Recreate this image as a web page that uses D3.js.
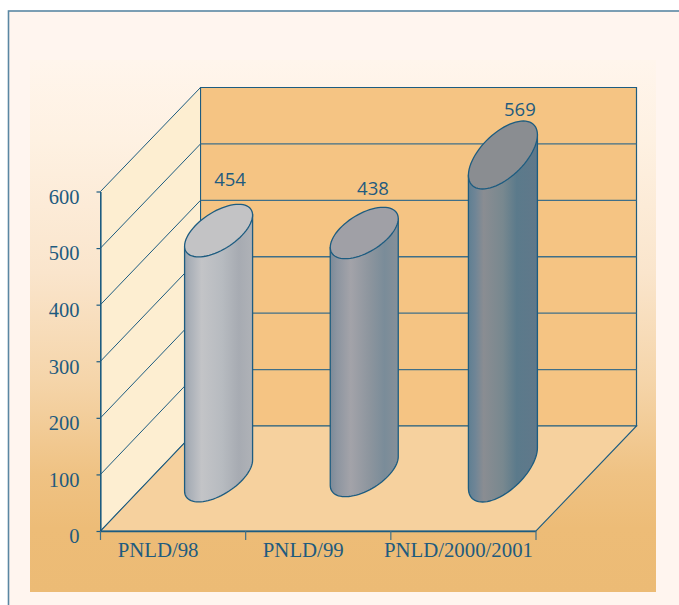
<!DOCTYPE html>
<html lang="en">
  <head>
    <meta charset="UTF-8" />
    <title>PNLD</title>
    <script src="https://d3js.org/d3.v7.min.js"></script>
    <style>
      html, body { margin: 0; padding: 0; background: #fff; }
      svg { display: block; }
      .tick-label { font-family: "Liberation Serif", serif; font-size: 20.5px; fill: #1f5b7f; }
      .cat-label { font-family: "Liberation Serif", serif; font-size: 20.8px; fill: #1f5b7f; }
      .value-label { font-family: "Open Sans", sans-serif; font-size: 18.5px; fill: #1f5b7f; }
    </style>
  </head>
  <body>
    <svg width="679" height="605"></svg>
    <script>
      const categories = ["PNLD/98", "PNLD/99", "PNLD/2000/2001"];
      const values = [454, 438, 569];
      const yTicks = [0, 100, 200, 300, 400, 500, 600];

      const lineColor = "#1d5c80";
      const svg = d3.select("svg");

      // plot box
      const left = 100.5, right = 536, backLeft = 200.5, backRight = 636.5;
      const y = d3.scaleLinear().domain([0, 600]).range([531, 191.5]);
      const yBack = d3.scaleLinear().domain([0, 600]).range([426, 87.5]);
      const x = d3.scaleBand().domain(categories).range([left, right]);
      // the cylinders are not drawn to the axis scale in the picture
      const heightScale = d3.scaleLinear().domain([0, 438, 454, 569]).range([0, 238, 245, 313]);

      // one per cylinder: shift from band centre, base centre, ellipse shape
      const cylShift = [45.5, 46, 39.5];
      const cylBase = [475.6, 471, 468];
      const cylB = [26.3, 25.7, 34];
      const cylA = [20, 19, 20.5];
      const cylHalf = [34, 34, 34.5];
      const labelDx = [11.5, 8.7, 17];
      const labelDy = [-18, -12, -5];
      const catDx = [-15, -15, -5];

      const gradients = [
        { stops: [[0, "#98a2ad"], [0.08, "#aab0b8"], [0.25, "#c3c4c7"], [0.55, "#b7bbc0"], [0.8, "#a7abb2"], [1, "#afb2b7"]], top: "#c3c3c5" },
        { stops: [[0, "#7c8a98"], [0.1, "#8d95a0"], [0.3, "#a3a3a9"], [0.6, "#8b949d"], [0.8, "#7a8c99"], [1, "#869099"]], top: "#a0a0a6" },
        { stops: [[0, "#5f7f92"], [0.1, "#6f8596"], [0.22, "#8a8d92"], [0.5, "#78888f"], [0.7, "#5b7a8b"], [1, "#60788a"]], top: "#8a8d91" },
      ];

      const defs = svg.append("defs");

      const bg = defs.append("linearGradient").attr("id", "bg").attr("x1", 0).attr("y1", 0).attr("x2", 0).attr("y2", 1);
      [[0, "#fff5ec"], [0.15, "#fef1e2"], [0.4, "#fae5cc"], [0.6, "#f5d5aa"], [0.78, "#efc283"], [0.88, "#edbc77"], [1, "#ecbb75"]]
        .forEach((s) => bg.append("stop").attr("offset", s[0]).attr("stop-color", s[1]));

      gradients.forEach((g, i) => {
        const lg = defs.append("linearGradient").attr("id", "cyl" + i);
        g.stops.forEach((s) => lg.append("stop").attr("offset", s[0]).attr("stop-color", s[1]));
      });

      // page frame and backdrop
      svg.append("rect").attr("x", 8.5).attr("y", 11).attr("width", 680).attr("height", 610)
        .attr("fill", "#fff5ef").attr("stroke", "#5a87a3").attr("stroke-width", 1.6);
      svg.append("rect").attr("x", 30).attr("y", 60).attr("width", 626).attr("height", 532).attr("fill", "url(#bg)");

      const poly = d3.line();

      // back wall
      svg.append("path")
        .attr("d", poly([[backLeft, yBack(600)], [backRight, yBack(600)], [backRight, yBack(0)], [backLeft, yBack(0)]]) + "Z")
        .attr("fill", "#f5c483").attr("stroke", lineColor).attr("stroke-width", 1.2);

      // side wall
      svg.append("path")
        .attr("d", poly([[left, y(0)], [left, y(600)], [backLeft, yBack(600)], [backLeft, yBack(0)]]) + "Z")
        .attr("fill", "#fdeed1").attr("stroke", lineColor).attr("stroke-width", 1);

      // floor
      svg.append("path")
        .attr("d", poly([[left, y(0)], [backLeft, yBack(0)], [backRight, yBack(0)], [right, y(0)]]) + "Z")
        .attr("fill", "#f6d19e").attr("stroke", lineColor).attr("stroke-width", 1.1);

      // gridlines
      svg.append("g").selectAll("line").data(yTicks.slice(1, -1)).join("line")
        .attr("x1", backLeft).attr("x2", backRight)
        .attr("y1", (d) => yBack(d)).attr("y2", (d) => yBack(d))
        .attr("stroke", "#3f6f88").attr("stroke-width", 1.3);
      svg.append("g").selectAll("line").data(yTicks.slice(1, -1)).join("line")
        .attr("x1", left).attr("x2", backLeft)
        .attr("y1", (d) => y(d)).attr("y2", (d) => yBack(d))
        .attr("stroke", lineColor).attr("stroke-width", 1);

      // y axis
      const yAxis = svg.append("g").attr("transform", `translate(${left},0)`)
        .call(d3.axisLeft(y).tickValues(yTicks).tickSizeInner(4).tickSizeOuter(0).tickPadding(17));
      yAxis.select(".domain").attr("stroke", lineColor).attr("stroke-width", 1.2);
      yAxis.selectAll(".tick line").attr("stroke", lineColor).attr("stroke-width", 1.2);
      yAxis.selectAll("text").attr("class", "tick-label").attr("dy", "0.58em").attr("y", 0)
        .attr("fill", null);
      yAxis.attr("font-size", null).attr("font-family", null);

      // x axis
      const xAxis = svg.append("g");
      xAxis.append("line").attr("x1", left).attr("x2", right).attr("y1", y(0) + 0.5).attr("y2", y(0) + 0.5)
        .attr("stroke", lineColor).attr("stroke-width", 1.6);
      xAxis.selectAll(".edge").data(categories.map((c) => x(c)).concat(right)).join("line")
        .attr("class", "edge")
        .attr("x1", (d) => d).attr("x2", (d) => d)
        .attr("y1", y(0)).attr("y2", y(0) + 9)
        .attr("stroke", "#3f6f88").attr("stroke-width", 1.2);
      xAxis.selectAll("text").data(categories).join("text")
        .attr("class", "cat-label")
        .attr("text-anchor", "middle")
        .attr("x", (d, i) => x(d) + x.bandwidth() / 2 + catDx[i])
        .attr("y", 557)
        .text((d) => d);

      // cylinders
      function ringPoint(cx, cy, i, t) {
        const a = cylA[i], b = cylB[i];
        const u = Math.sqrt(cylHalf[i] * cylHalf[i] - a * a);
        return [cx + u * Math.cos(t) + a * Math.sin(t), cy - b * Math.sin(t)];
      }

      values.forEach((v, i) => {
        const cx = x(categories[i]) + x.bandwidth() / 2 + cylShift[i];
        const baseY = cylBase[i];
        const topY = baseY - heightScale(v);
        const a = cylA[i];
        const u = Math.sqrt(cylHalf[i] * cylHalf[i] - a * a);
        const tRight = Math.atan2(a, u); // angle of the rightmost point
        const tLeft = tRight + Math.PI;

        const lower = d3.range(0, 41).map((k) => ringPoint(cx, baseY, i, tLeft + (k / 40) * Math.PI));
        const body = [ringPoint(cx, topY, i, tLeft)].concat(lower, [ringPoint(cx, topY, i, tRight)]);

        svg.append("path").attr("d", poly(body) + "Z")
          .attr("fill", `url(#cyl${i})`).attr("stroke", lineColor).attr("stroke-width", 1.3);

        const ring = d3.range(0, 72).map((k) => ringPoint(cx, topY, i, (k / 72) * 2 * Math.PI));
        svg.append("path").attr("d", poly(ring) + "Z")
          .attr("fill", gradients[i].top).attr("stroke", lineColor).attr("stroke-width", 1.3);

        svg.append("text").attr("class", "value-label").attr("text-anchor", "middle")
          .attr("x", cx + labelDx[i])
          .attr("y", topY - cylB[i] + labelDy[i])
          .text(v);
      });
    </script>
  </body>
</html>
